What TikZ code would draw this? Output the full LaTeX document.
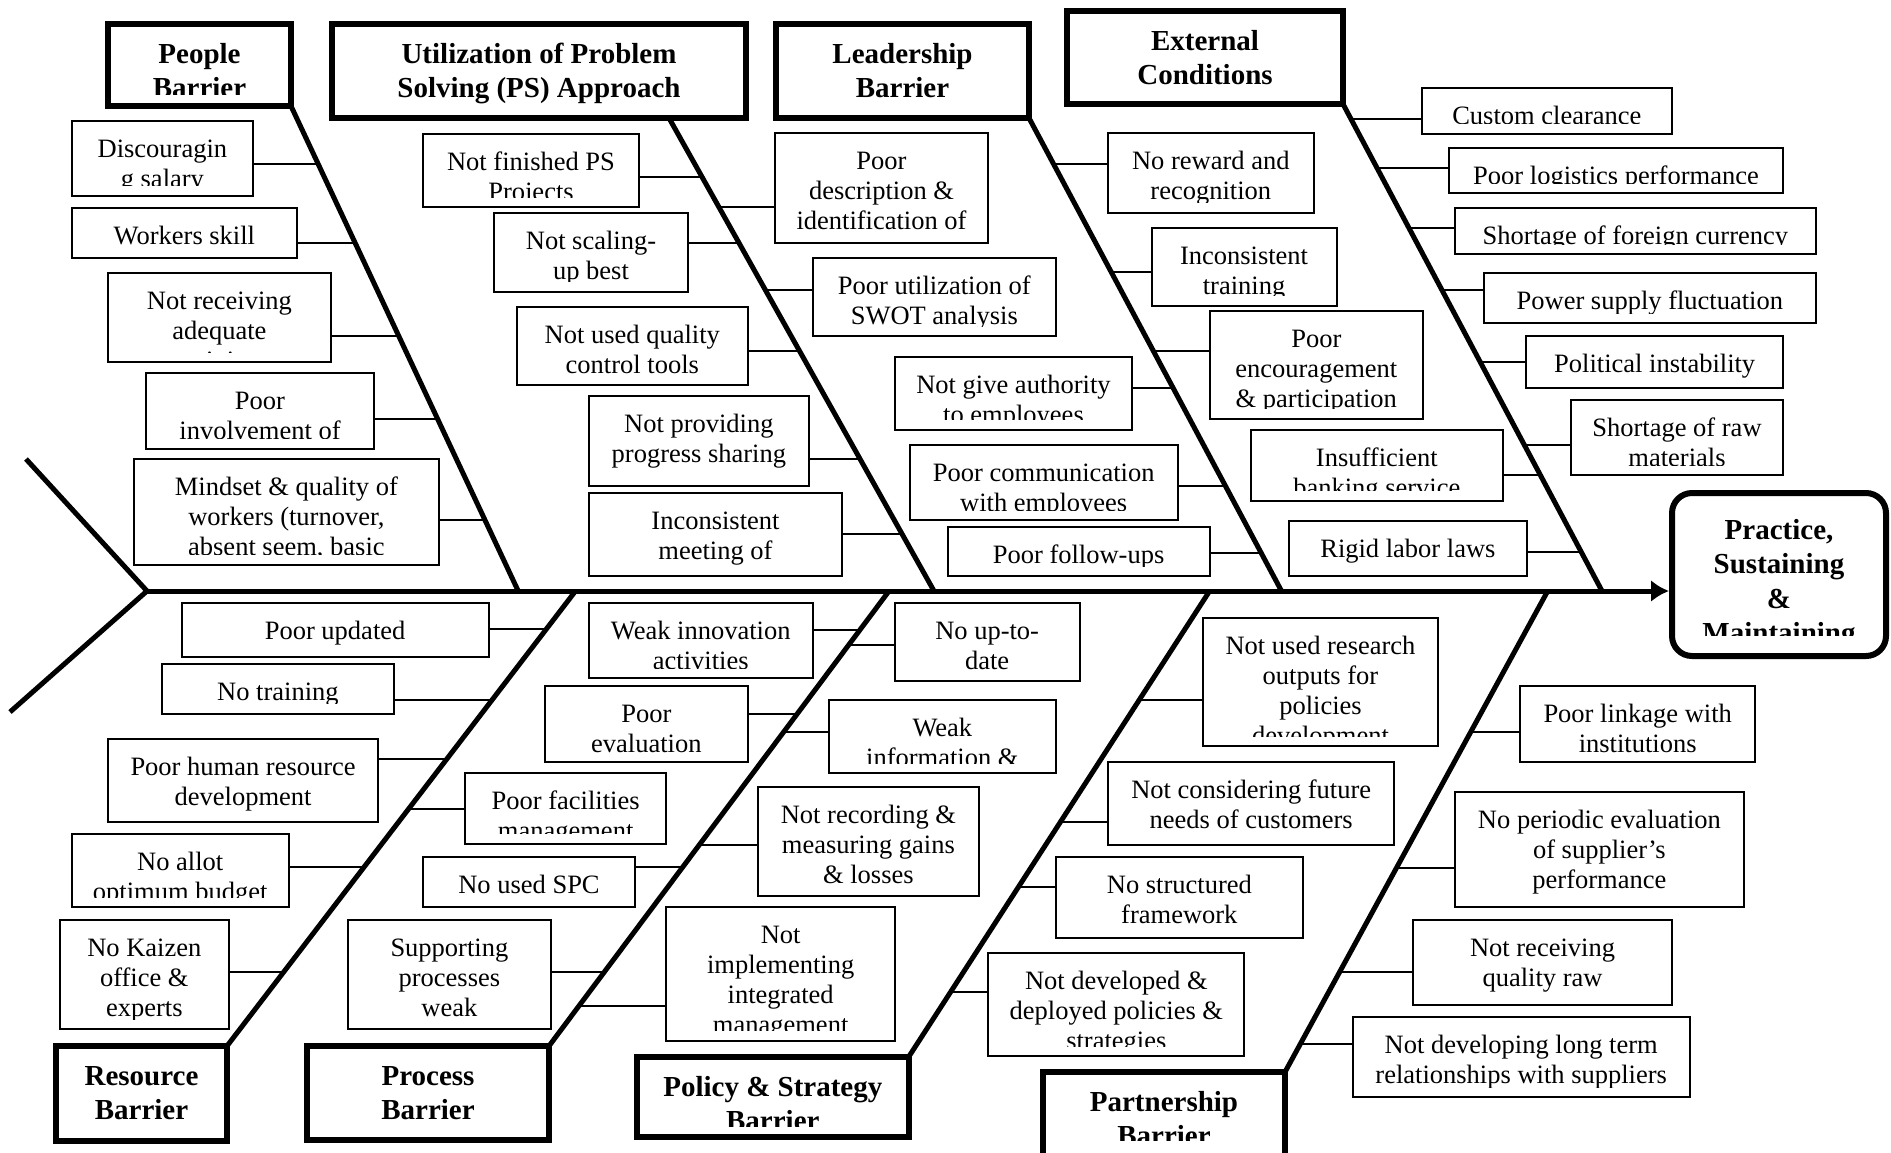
\documentclass[tikz,border=0pt]{standalone}
\usepackage{fontspec}
\setmainfont{Liberation Serif}
\usetikzlibrary{arrows.meta}
\tikzset{
  cbox/.style={draw, line width=2pt, inner sep=0pt, outer sep=0pt},
  ctext/.style={font=\fontsize{26.5}{30}\selectfont, align=center, inner sep=0pt},
  hbox/.style={draw, line width=6pt, inner sep=0pt, outer sep=0pt},
  htext/.style={font=\fontsize{29}{34}\selectfont\bfseries, align=center, inner sep=0pt},
  etext/.style={font=\fontsize{29}{34.5}\selectfont\bfseries, align=center, inner sep=0pt},
  bone/.style={line width=5pt},
  conn/.style={line width=2pt},
}
% cause box: name, x1, y1, x2, y2, number of lines, text
% (base anchor of a multi-line node = baseline of its last line)
\newcommand\cb[7]{%
  \node[cbox, anchor=north west, minimum width={#4-#2}, minimum height={#5-#3}] (#1) at (#2,#3) {};
  \begin{scope}
    \clip (#2,#3) rectangle (#4,#5-10);
    \node[ctext, anchor=base] (#1t) at ({(#2+#4)/2},{#3+36.5+30*(#6-1)}) {#7};
  \end{scope}}
% header box (two lines): name, x1, y1, x2, y2, text, clip y
\newcommand\hb[7]{%
  \node[hbox, anchor=north west, minimum width={#4-#2}, minimum height={#5-#3}] (#1) at (#2,#3) {};
  \begin{scope}
    \clip (#2,#3) rectangle (#4,#7);
    \node[htext, anchor=base] (#1t) at ({(#2+#4)/2},#3+73.5) {#6};
  \end{scope}}
% connector: box, side, bone, y
\newcommand\cn[4]{%
  \coordinate (#1c) at (intersection cs:first line={(#3a)--(#3b)},second line={(0,#4)--(100,#4)});
  \draw[conn] (#1.#2 |- #1c) -- (#1c);}
\begin{document}
\begin{tikzpicture}[x=1pt,y=-1pt]
\useasboundingbox (0,0) rectangle (1891,1152);
\fill[white] (0,0) rectangle (1891,1152);

% bone end coordinates
\coordinate (Pa) at (290,109);   \coordinate (Pb) at (518.2,591);
\coordinate (Ua) at (669,121);   \coordinate (Ub) at (934,591);
\coordinate (La) at (1030,121);  \coordinate (Lb) at (1281.5,591);
\coordinate (Ea) at (1343,107);  \coordinate (Eb) at (1602,591);
\coordinate (Ra) at (575.5,591); \coordinate (Rb) at (228.6,1043);
\coordinate (Qa) at (889,591);   \coordinate (Qb) at (551,1040);
\coordinate (Sa) at (1209.6,591);\coordinate (Sb) at (911.6,1054);
\coordinate (Ta) at (1547.7,591);\coordinate (Tb) at (1288,1067);
\coordinate (tail) at (147,591);
\coordinate (tailU) at (26,459);
\coordinate (tailD) at (10,712);

% headers
\hb{hP}{108}{24}{291}{106}{People\\Barrier}{94}
\hb{hU}{332}{24}{746}{118}{Utilization of Problem\\Solving (PS) Approach}{106}
\hb{hL}{776}{24}{1029}{118}{Leadership\\Barrier}{106}
\hb{hE}{1067}{11}{1343}{104}{External\\Conditions}{92}
\hb{hR}{56}{1046}{227}{1140.5}{Resource\\Barrier}{1128}
\hb{hQ}{307}{1046}{549}{1140}{Process\\Barrier}{1128}
\hb{hS}{637}{1057}{908.6}{1137}{Policy \& Strategy\\Barrier}{1126}
\hb{hT}{1043}{1072}{1285}{1190}{Partnership\\Barrier}{1140}

% effect
\node[draw, line width=6pt, rounded corners=20pt, anchor=north west, minimum width=214, minimum height=163, inner sep=0pt, outer sep=0pt] (eff) at (1672,493) {};
\begin{scope}
  \clip (1672,493) rectangle (1886,635);
  \node[etext, anchor=base] (efft) at (1779,642.5) {Practice,\\Sustaining\\\&\\Maintaining};
\end{scope}

% spine and tail
\draw[line width=5pt, shorten >=3pt, -{Latex[length=18pt,width=22pt]}] (tail) -- (eff.west |- tail);
\draw[bone, line join=miter] (tailU) -- (tail) -- (tailD);

% bones
\draw[bone] (hP.south east) -- (Pb);
\draw[bone] (hU.south -| Ua) -- (Ub);
\draw[bone] (hL.south east) -- (Lb);
\draw[bone] (hE.south east) -- (Eb);
\draw[bone] (Ra) -- (hR.north east);
\draw[bone] (Qa) -- (hQ.north east);
\draw[bone] (Sa) -- (hS.north east);
\draw[bone] (Ta) -- (hT.north east);

% People
\cb{pe1}{71.8}{121}{253}{195.7}{2}{Discouragin\\g salary}
\cb{pe2}{71.8}{207.8}{297}{257.8}{1}{Workers skill}
\cb{pe3}{107.8}{273}{331}{362}{3}{Not receiving\\adequate\\training}
\cb{pe4}{146}{372.6}{374}{448.6}{2}{Poor\\involvement of}
\cb{pe5}{134}{459}{438.8}{564.5}{3}{Mindset \& quality of\\workers (turnover,\\absent seem, basic}
\cn{pe1}{east}{P}{163.7}
\cn{pe2}{east}{P}{242.8}
\cn{pe3}{east}{P}{336}
\cn{pe4}{east}{P}{418.5}
\cn{pe5}{east}{P}{520}

% Utilization
\cb{ut1}{423}{133.6}{639}{207}{2}{Not finished PS\\Projects}
\cb{ut2}{494}{212.6}{688}{291.7}{2}{Not scaling-\\up best}
\cb{ut3}{517}{306.7}{747.6}{384.6}{2}{Not used quality\\control tools}
\cb{ut4}{589}{396}{808.8}{486}{2}{Not providing\\progress sharing}
\cb{ut5}{589}{493}{842}{576}{2}{Inconsistent\\meeting of}
\cn{ut1}{east}{U}{177}
\cn{ut2}{east}{U}{242.8}
\cn{ut3}{east}{U}{350.8}
\cn{ut4}{east}{U}{459}
\cn{ut5}{east}{U}{534}

% Leadership
\cb{le1}{775}{132.5}{988}{242.8}{3}{Poor\\description \&\\identification of}
\cb{le2}{812.9}{257.8}{1055.7}{336}{2}{Poor utilization of\\SWOT analysis}
\cb{le3}{895}{356.8}{1132}{429.8}{2}{Not give authority\\to employees}
\cb{le4}{909.6}{444.9}{1177.8}{520}{2}{Poor communication\\with employees}
\cb{le5}{947.6}{527}{1209.6}{576}{1}{Poor follow-ups}
\cn{le1}{west}{U}{207}
\cn{le2}{west}{U}{290}
\cn{le3}{east}{L}{387.7}
\cn{le4}{east}{L}{486}
\cn{le5}{east}{L}{552.5}

% External conditions
\cb{ex1}{1107.6}{132.5}{1314}{212.6}{2}{No reward and\\recognition}
\cb{ex2}{1151.6}{227.7}{1336.5}{305.6}{2}{Inconsistent\\training}
\cb{ex3}{1209.6}{310.5}{1423}{418.5}{3}{Poor\\encouragement\\\& participation}
\cb{ex4}{1251}{430}{1502.6}{500.6}{2}{Insufficient\\banking service}
\cb{ex5}{1289}{520.5}{1526.8}{575.8}{1}{Rigid labor laws}
\cb{ex6}{1422}{87.7}{1671.7}{133.6}{1}{Custom clearance}
\cb{ex7}{1449}{147.5}{1783}{193}{1}{Poor logistics performance}
\cb{ex8}{1454.8}{207.8}{1816}{254}{1}{Shortage of foreign currency}
\cb{ex9}{1483.7}{272.9}{1816}{323}{1}{Power supply fluctuation}
\cb{ex10}{1526.4}{336}{1783}{387.7}{1}{Political instability}
\cb{ex11}{1571}{400}{1783}{475}{2}{Shortage of raw\\materials}
\cn{ex1}{west}{L}{163.7}
\cn{ex2}{west}{L}{271.7}
\cn{ex3}{west}{L}{350.8}
\cn{ex4}{east}{E}{475}
\cn{ex5}{east}{E}{552}
\cn{ex6}{west}{E}{119.3}
\cn{ex7}{west}{E}{167.5}
\cn{ex8}{west}{E}{227.7}
\cn{ex9}{west}{E}{290}
\cn{ex10}{west}{E}{362}
\cn{ex11}{west}{E}{444.9}

% Resource
\cb{re1}{181.6}{602.7}{488.6}{656.5}{1}{Poor updated}
\cb{re2}{162}{663.9}{393.9}{713.7}{1}{No training}
\cb{re3}{107.8}{738.9}{378.4}{822.4}{2}{Poor human resource\\development}
\cb{re4}{71.8}{834.3}{288.6}{907}{2}{No allot\\optimum budget}
\cb{re5}{60}{920}{228.6}{1029}{3}{No Kaizen\\office \&\\experts}
\cn{re1}{east}{R}{629.4}
\cn{re2}{east}{R}{700}
\cn{re3}{east}{R}{758.6}
\cn{re4}{east}{R}{867}
\cn{re5}{east}{R}{971.6}

% Process
\cb{pr1}{588.6}{602.7}{812.9}{678.4}{2}{Weak innovation\\activities}
\cb{pr2}{545}{686.2}{747.6}{762.3}{2}{Poor\\evaluation}
\cb{pr3}{465.3}{773}{666}{843.6}{2}{Poor facilities\\management}
\cb{pr4}{423.3}{856.6}{634.7}{907}{1}{No used SPC}
\cb{pr5}{347.8}{920}{551}{1029}{3}{Supporting\\processes\\weak}
\cn{pr1}{east}{Q}{630}
\cn{pr2}{east}{Q}{713.7}
\cn{pr3}{west}{R}{809.4}
\cn{pr4}{east}{Q}{867}
\cn{pr5}{east}{Q}{971.6}

% Policy & Strategy
\cb{po1}{894.5}{602.7}{1079.8}{681.4}{2}{No up-to-\\date}
\cb{po2}{829}{700}{1055.7}{773}{2}{Weak\\information \&}
\cb{po3}{757.8}{787}{979}{895.5}{3}{Not recording \&\\measuring gains\\\& losses}
\cb{po4}{666}{907}{895.3}{1040.7}{4}{Not\\implementing\\integrated\\management}
\cn{po1}{west}{Q}{645.4}
\cn{po2}{west}{Q}{732}
\cn{po3}{west}{Q}{844.7}
\cn{po4}{west}{Q}{1006}

% Partnership
\cb{pa1}{1202.7}{618.3}{1438.3}{746.3}{4}{Not used research\\outputs for\\policies\\development}
\cb{pa2}{1108.4}{762.3}{1394}{844.7}{2}{Not considering future\\needs of customers}
\cb{pa3}{1055.7}{857}{1303}{937.5}{2}{No structured\\framework}
\cb{pa4}{988.4}{953.4}{1244.3}{1056.3}{3}{Not developed \&\\deployed policies \&\\strategies}
\cb{pa5}{1520.4}{686.2}{1755}{762.3}{2}{Poor linkage with\\institutions}
\cb{pa6}{1454.8}{792}{1744}{907}{3}{No periodic evaluation\\of supplier’s\\performance}
\cb{pa7}{1413.3}{919.7}{1671.7}{1005.4}{2}{Not receiving\\quality raw}
\cb{pa8}{1352.6}{1016.5}{1689.8}{1097}{2}{Not developing long term\\relationships with suppliers}
\cn{pa1}{west}{S}{700}
\cn{pa2}{west}{S}{822.4}
\cn{pa3}{west}{S}{887.4}
\cn{pa4}{west}{S}{992.4}
\cn{pa5}{west}{T}{732.2}
\cn{pa6}{west}{T}{867.7}
\cn{pa7}{west}{T}{971.6}
\cn{pa8}{west}{T}{1044.4}
\end{tikzpicture}
\end{document}
